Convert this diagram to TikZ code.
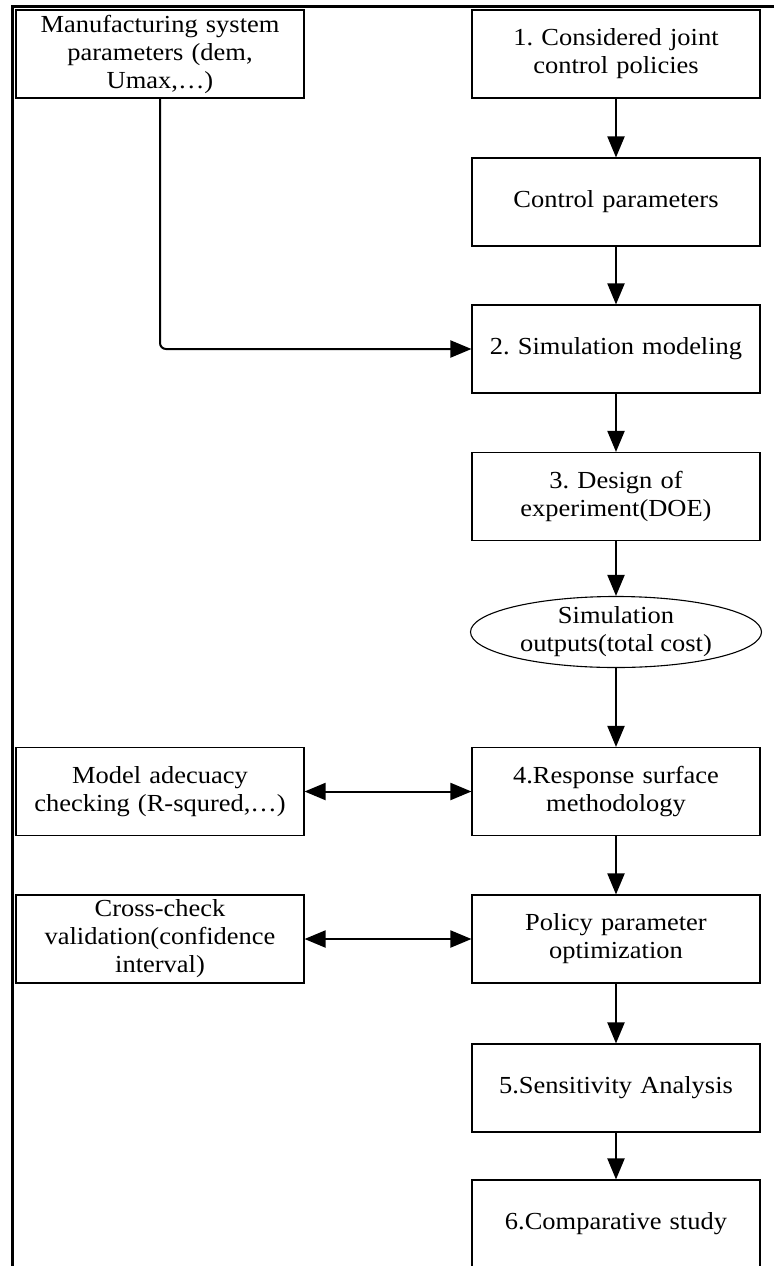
\documentclass[tikz,border=0pt]{standalone}
\usepackage{fontspec}
\setmainfont{Liberation Serif}[FakeStretch=1.08]
\usetikzlibrary{arrows.meta,shapes.geometric}
\frenchspacing

\tikzset{
  box/.style={draw=black, line width=1.1pt, minimum width=288pt, minimum height=88pt,
    inner sep=0pt, align=center, text width=280pt,
    font=\fontsize{24.5pt}{28pt}\selectfont},
  oval/.style={draw=black, line width=1.1pt, ellipse, minimum width=291pt, minimum height=66pt,
    inner sep=0pt, align=center, font=\fontsize{24.5pt}{28pt}\selectfont},
  flow/.style={line width=2pt, -{Triangle[length=21pt,width=17pt]}},
  both/.style={line width=2pt, {Triangle[length=21pt,width=17pt]}-{Triangle[length=21pt,width=17pt]}},
  frame/.style={line width=3pt}
}

\begin{document}
\begin{tikzpicture}[x=1pt, y=-1pt]
  \useasboundingbox (0,0) rectangle (774,1266);

  % outer frame edges
  \coordinate (ftop) at (774,6);
  \coordinate (fcorner) at (12,6);
  \coordinate (fbottom) at (12,1266);
  \draw[frame] (ftop) -- (fcorner) -- (fbottom);

  % right column
  \node[box] (s1)  at (616,54)    {1. Considered joint\\control policies};
  \node[box] (cp)  at (616,202)   {Control parameters};
  \node[box] (s2)  at (616,349)   {2. Simulation modeling};
  \node[box] (s3)  at (616,496.5) {3. Design of\\experiment(DOE)};
  \node[oval] (out) at (616,632)  {Simulation\\outputs(total cost)};
  \node[box] (s4)  at (616,791.5) {4.Response surface\\methodology};
  \node[box] (pol) at (616,939)   {Policy parameter\\optimization};
  \node[box] (s5)  at (616,1088)  {5.Sensitivity Analysis};
  \node[box] (s6)  at (616,1224)  {6.Comparative study};

  % left column
  \node[box] (msp) at (160,54)    {Manufacturing system\\parameters (dem,\\Umax,\dots)};
  \node[box] (mac) at (160,791.5) {Model adecuacy\\checking (R-squred,\dots)};
  \node[box] (ccv) at (160,939)   {Cross-check\\validation(confidence\\interval)};

  % main flow
  \draw[flow] (s1) -- (cp);
  \draw[flow] (cp) -- (s2);
  \draw[flow] (s2) -- (s3);
  \draw[flow] (s3) -- (out);
  \draw[flow] (out) -- (s4);
  \draw[flow] (s4) -- (pol);
  \draw[flow] (pol) -- (s5);
  \draw[flow] (s5) -- (s6);

  % system parameters feed the simulation model
  \draw[flow, rounded corners=6pt] (msp.south) |- (s2.west);

  % checking loops
  \draw[both] (mac) -- (s4);
  \draw[both] (ccv) -- (pol);
\end{tikzpicture}
\end{document}
